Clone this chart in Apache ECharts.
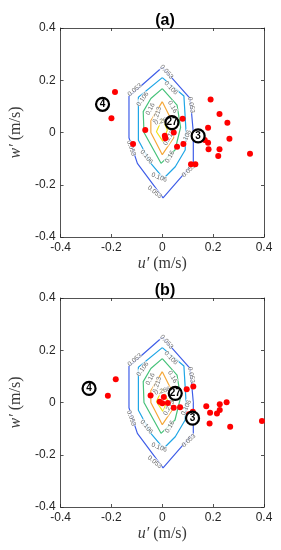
<!DOCTYPE html>
<html><head><meta charset="utf-8">
<script src="https://cdn.jsdelivr.net/npm/echarts@6/dist/echarts.min.js"></script>
<style>html,body{margin:0;padding:0;background:#fff}#c{width:281px;height:550px}</style>
</head><body><div id="c"></div>
<script>
// ---- data ----
const panelTitles = ['(a)', '(b)'];
const axisTicks = [-0.4, -0.2, 0, 0.2, 0.4];
const contourLevels = [0.053, 0.106, 0.16, 0.213, 0.266];
const contour053 = [[0,0.25],[0.11,0.13],[0.122,0.0],[0.122,-0.117],[0.003,-0.25],[-0.098,-0.118],[-0.131,-0.02],[-0.131,0.138],[0,0.25]];
const contour106 = [[0,0.21],[0.085,0.14],[0.093,0.01],[0.09,-0.067],[0.051,-0.131],[0.005,-0.176],[-0.045,-0.118],[-0.094,-0.03],[-0.094,0.135],[0,0.21]];
const contour160 = [[0,0.168],[0.058,0.105],[0.072,0.02],[0.05,-0.067],[-0.005,-0.118],[-0.072,0.0],[-0.075,0.08],[-0.045,0.13],[0,0.168]];
const contour213 = [[0,0.118],[0.035,0.05],[0.045,-0.02],[0.0,-0.085],[-0.045,0.0],[-0.045,0.045],[0,0.118]];
const contour266 = [[0,0.054],[0.02,0.01],[0.003,-0.035],[-0.023,0.003],[0,0.054]];
// contour label anchors: [u, w, text, angle]
const contourLabels = [
  [0.017,0.232,'0.053',-48],[-0.108,0.163,'0.053',41],[0.114,0.105,'0.053',-80],
  [-0.122,-0.06,'0.053',-70],[0.104,-0.146,'0.053',42],[-0.03,-0.228,'0.053',-40],
  [0.034,0.17,'0.106',-45],[-0.077,0.128,'0.106',55],[0.094,-0.02,'0.106',65],
  [-0.062,-0.093,'0.106',-50],[-0.012,-0.172,'0.106',-20],
  [0.04,0.098,'0.16',-60],[-0.047,0.09,'0.16',62],[0.03,-0.093,'0.16',60],
  [-0.02,0.068,'0.213',72],[0.026,-0.02,'0.213',60],[0.0,0.044,'0.266',15]
];
// scatter points (u', w') in m/s
const uA = [-0.186,-0.2,-0.115,-0.067,0.036,0.08,0.045,0.01,0.012,0.058,0.083,0.113,0.13,0.167,0.18,0.18,0.182,0.19,0.225,0.256,0.264,0.225,0.22,0.345];
const wA = [0.155,0.055,-0.044,0.01,0.054,0.053,0.0,-0.012,-0.022,-0.055,-0.044,-0.122,-0.122,-0.029,0.018,-0.039,-0.064,0.126,0.071,0.037,-0.024,-0.064,-0.09,-0.081];
const uB = [-0.183,-0.214,-0.046,0.006,-0.01,0.0,0.022,0.045,0.07,0.096,0.122,0.105,0.118,0.12,0.173,0.188,0.215,0.226,0.226,0.253,0.186,0.267,0.392];
const wB = [0.089,0.026,0.027,0.021,0.003,-0.003,-0.002,-0.02,-0.018,0.051,0.061,-0.045,-0.072,-0.035,-0.014,-0.039,-0.042,-0.007,-0.029,0.001,-0.08,-0.093,-0.071];
// circled counts: [u, w, count]
const countsA = [[-0.235,0.108,'4'],[0.038,0.038,'27'],[0.141,-0.013,'3']];
const countsB = [[-0.288,0.054,'4'],[0.051,0.035,'27'],[0.119,-0.06,'3']];

// ---- styling ----
const contourColors = ['#3f5ee8','#1fa6e6','#46c27a','#f5a83a','#f0e31c'];
const contours = [contour053, contour106, contour160, contour213, contour266];
const panels = [
  {u:uA, w:wA, counts:countsA, top:28},
  {u:uB, w:wB, counts:countsB, top:298}
];
const axisCol = '#262626';
const tickFmt = v => v === 0 ? '0' : v.toFixed(1);

const grid = [], xAxis = [], yAxis = [], series = [], title = [];
panels.forEach((p, i) => {
  grid.push({left:56, width:208, top:p.top, height:209});
  title.push({text:panelTitles[i], left:160, top:p.top - 20, textAlign:'center',
    textStyle:{fontSize:16, fontWeight:'bold', color:'#000', fontFamily:'Liberation Sans'}});
  const common = {type:'value', min:-0.4, max:0.4, interval:0.2, gridIndex:i,
    axisLine:{show:true, onZero:false, lineStyle:{color:axisCol, width:0.8}},
    axisTick:{show:true, inside:true, length:3, lineStyle:{color:axisCol, width:0.8}},
    splitLine:{show:false}};
  xAxis.push(Object.assign({}, common, {position:'bottom',
    axisLabel:{formatter:tickFmt, fontSize:12, color:axisCol, margin:5, fontFamily:'Liberation Sans'},
    name:'{i|u′} (m/s)', nameLocation:'middle', nameGap:19,
    nameTextStyle:{fontSize:16, color:'#3a3a3a', fontFamily:'Liberation Serif',
      rich:{i:{fontSize:16, fontStyle:'italic', fontFamily:'Liberation Serif', color:'#3a3a3a'}}}}));
  xAxis.push(Object.assign({}, common, {position:'top', axisLabel:{show:false}}));
  yAxis.push(Object.assign({}, common, {position:'left',
    axisLabel:{formatter:tickFmt, fontSize:12, color:axisCol, margin:5, fontFamily:'Liberation Sans'},
    name:'{i|w′} (m/s)', nameLocation:'middle', nameGap:32, nameRotate:90,
    nameTextStyle:{fontSize:16, color:'#3a3a3a', fontFamily:'Liberation Serif',
      rich:{i:{fontSize:16, fontStyle:'italic', fontFamily:'Liberation Serif', color:'#3a3a3a'}}}}));
  yAxis.push(Object.assign({}, common, {position:'right', axisLabel:{show:false}}));
  const xi = i * 2, yi = i * 2;
  contours.forEach((c, k) => {
    series.push({type:'line', xAxisIndex:xi, yAxisIndex:yi, data:c, showSymbol:false, silent:true,
      lineStyle:{color:contourColors[k], width:1.2}, z:2, animation:false});
  });
  series.push({type:'scatter', xAxisIndex:xi, yAxisIndex:yi, symbolSize:0, z:3, silent:true,
    data: contourLabels.map(l => ({value:[l[0], l[1]],
      label:{show:true, formatter:l[2], rotate:l[3], position:'inside', fontSize:6.5,
        color:'#444', backgroundColor:'#fff', padding:0, fontFamily:'Liberation Sans'}})),
    animation:false});
  series.push({type:'scatter', xAxisIndex:xi, yAxisIndex:yi, symbolSize:6, z:4,
    itemStyle:{color:'#ff0000', opacity:1}, data:p.u.map((u, j) => [u, p.w[j]]), animation:false});
  series.push({type:'scatter', xAxisIndex:xi, yAxisIndex:yi, symbolSize:13, z:5,
    itemStyle:{color:'#fff', borderColor:'#000', borderWidth:2.2, opacity:1},
    label:{show:true, position:'inside', formatter:d => d.data[2], fontSize:10, fontWeight:'bold',
      color:'#000', fontFamily:'Liberation Sans'},
    data:p.counts, animation:false});
});

const chart = echarts.init(document.getElementById('c'), null, {renderer:'canvas'});
chart.setOption({animation:false, backgroundColor:'#fff', title, grid, xAxis, yAxis, series});
</script></body></html>
